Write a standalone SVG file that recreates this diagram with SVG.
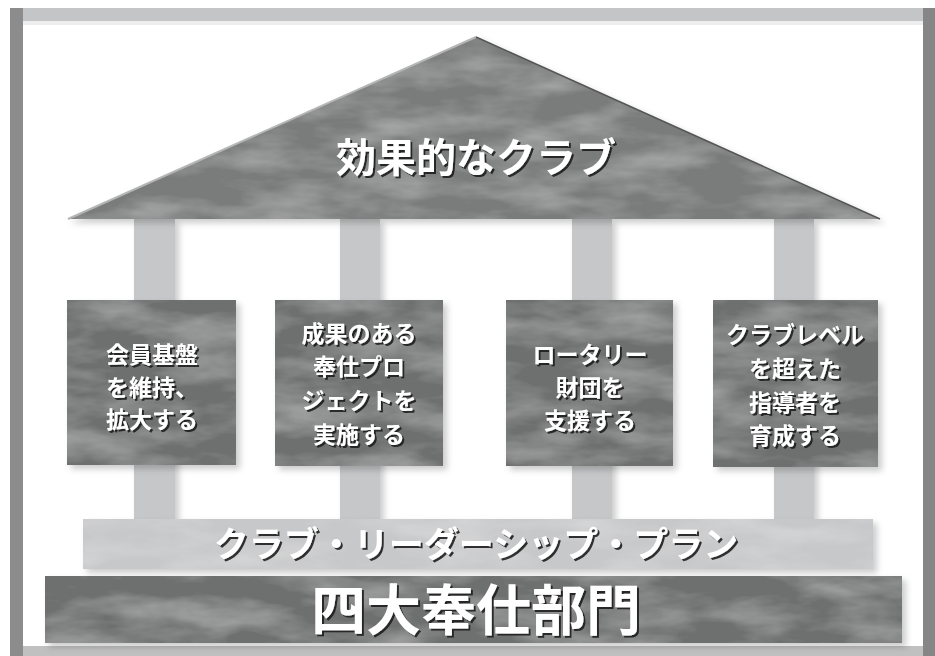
<svg xmlns="http://www.w3.org/2000/svg" width="935" height="656" viewBox="0 0 935 656">
<defs>
<style>
.jp{font-family:"Noto Sans CJK JP","Noto Sans CJK SC",sans-serif;font-weight:bold;fill:#ffffff;text-anchor:middle}
.box{font-size:23px}
.dark{fill:#6e6f70}
.light{fill:#c7c8c9}
</style>
<filter id="marble" x="0" y="0" width="100%" height="100%">
<feTurbulence type="fractalNoise" baseFrequency="0.012 0.035" numOctaves="4" seed="11" result="n"/>
<feColorMatrix in="n" type="matrix" values="0 0 0 0 1 0 0 0 0 1 0 0 0 0 1 0.45 0 0 0 -0.17" result="w"/>
<feComposite in="w" in2="SourceGraphic" operator="in" result="wc"/>
<feMerge><feMergeNode in="SourceGraphic"/><feMergeNode in="wc"/></feMerge>
</filter>
<filter id="shadow" x="-10%" y="-10%" width="130%" height="130%">
<feDropShadow dx="4" dy="4" stdDeviation="3" flood-color="#000" flood-opacity="0.2"/>
</filter>
<filter id="ts" x="-10%" y="-20%" width="130%" height="150%">
<feDropShadow dx="2" dy="2" stdDeviation="0.6" flood-color="#1a1a1a" flood-opacity="0.9"/>
</filter>
</defs>
<rect x="0" y="0" width="935" height="656" fill="#ffffff"/>
<g id="frame">
<rect x="10" y="8" width="925" height="648" fill="#9a9a9a"/>
<rect x="10" y="8" width="925" height="13" fill="#c3c5c7"/>
<rect x="10" y="8" width="13" height="648" fill="#8c8c8c"/>
<rect x="923" y="8" width="12" height="648" fill="#868686"/>
<rect x="23" y="646" width="900" height="10" fill="#c0c0c0"/>
<rect x="23" y="21" width="900" height="625" fill="#ffffff"/>
<rect x="23" y="21" width="900" height="4" fill="#eeeeee"/>
</g>
<g id="connectors" filter="url(#shadow)">
<rect x="134" y="219" width="41" height="300" fill="#c6c7c8"/>
<rect x="340" y="219" width="40" height="300" fill="#c6c7c8"/>
<rect x="572" y="219" width="40" height="300" fill="#c6c7c8"/>
<rect x="774" y="219" width="40" height="300" fill="#c6c7c8"/>
</g>
<g id="roof" filter="url(#shadow)">
<polygon points="476,37 880,219 68,219" fill="#7a7b7c" filter="url(#marble)"/>
<line x1="476" y1="37" x2="68" y2="219" stroke="#b5b5b5" stroke-width="2"/>
<line x1="476" y1="37" x2="880" y2="219" stroke="#555" stroke-width="1.5"/>
<text class="jp" x="476" y="172" font-size="40" filter="url(#ts)">効果的なクラブ</text>
</g>
<g id="box1" filter="url(#shadow)">
<rect x="67" y="300" width="169" height="165" class="dark" filter="url(#marble)"/>
<g filter="url(#ts)">
<text class="jp box" x="152" y="363">会員基盤</text>
<text class="jp box" x="152" y="396">を維持、</text>
<text class="jp box" x="152" y="428">拡大する</text>
</g>
</g>
<g id="box2" filter="url(#shadow)">
<rect x="275" y="300" width="168" height="166" class="dark" filter="url(#marble)"/>
<g filter="url(#ts)">
<text class="jp box" x="359" y="342">成果のある</text>
<text class="jp box" x="359" y="375">奉仕プロ</text>
<text class="jp box" x="359" y="409">ジェクトを</text>
<text class="jp box" x="359" y="443">実施する</text>
</g>
</g>
<g id="box3" filter="url(#shadow)">
<rect x="506" y="300" width="167" height="166" class="dark" filter="url(#marble)"/>
<g filter="url(#ts)">
<text class="jp box" x="590" y="363">ロータリー</text>
<text class="jp box" x="590" y="396">財団を</text>
<text class="jp box" x="590" y="429">支援する</text>
</g>
</g>
<g id="box4" filter="url(#shadow)">
<rect x="713" y="300" width="165" height="167" class="dark" filter="url(#marble)"/>
<g filter="url(#ts)">
<text class="jp box" x="795" y="343">クラブレベル</text>
<text class="jp box" x="795" y="377">を超えた</text>
<text class="jp box" x="795" y="411">指導者を</text>
<text class="jp box" x="795" y="444">育成する</text>
</g>
</g>
<g id="plan" filter="url(#shadow)">
<rect x="83" y="519" width="790" height="50" class="light" filter="url(#marble)"/>
<text class="jp" x="476" y="557" font-size="35" filter="url(#ts)">クラブ・リーダーシップ・プラン</text>
</g>
<g id="base" filter="url(#shadow)">
<rect x="45" y="576" width="857" height="67" fill="#6e6f70" filter="url(#marble)"/>
<text class="jp" x="476" y="630" font-size="55" filter="url(#ts)">四大奉仕部門</text>
</g>
</svg>
